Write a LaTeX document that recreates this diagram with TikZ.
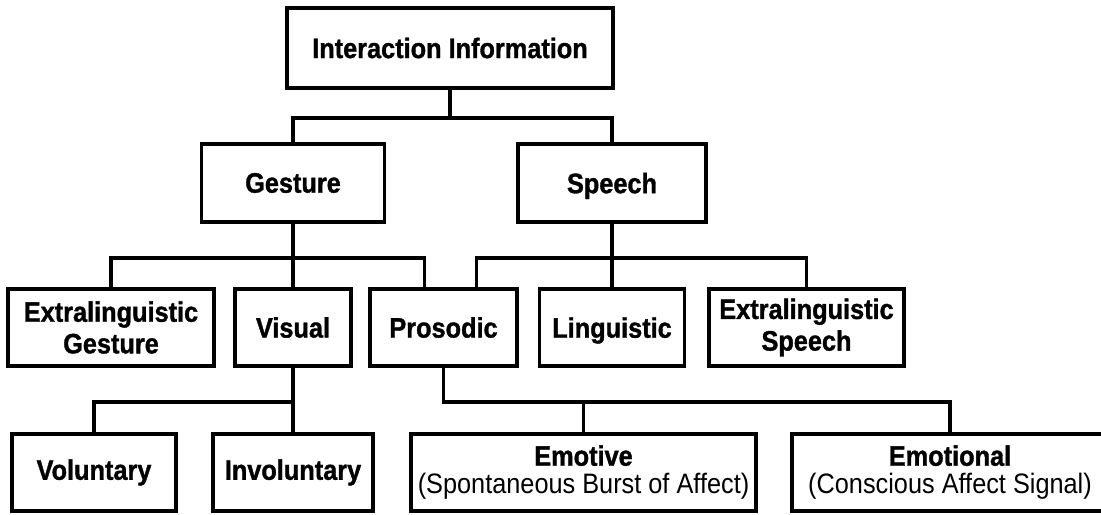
\documentclass[tikz,border=0pt]{standalone}
\usepackage{fontspec}
\setmainfont{Liberation Sans}[FakeStretch=0.9, BoldFeatures={FakeBold=1.2}]

\begin{document}
\begin{tikzpicture}[x=0.02cm, y=-0.02cm,
    box/.style={draw, line width=2.1pt, inner sep=2pt, align=center,
        font=\fontsize{16}{18}\selectfont\bfseries},
    leafbox/.style={box, minimum height=1.54cm,
        font=\fontsize{16}{16}\selectfont\bfseries},
    link/.style={line width=2.1pt}]

    % Fix the frame of the picture
    \useasboundingbox (0,0) rectangle (1101,514);
    \clip (0,0) rectangle (1101,514);

    % Draw the root box
    \node[box, minimum width=6.52cm, minimum height=1.6cm] (info) at (450,48) {Interaction Information};

    % Draw the second level
    \node[box, minimum width=3.66cm, minimum height=1.56cm] (gesture) at (293,183) {Gesture};
    \node[box, minimum width=3.76cm, minimum height=1.56cm, text depth=0pt] (speech) at (612,183) {Speech};

    % Draw the third level
    \node[box, minimum width=4.12cm, minimum height=1.54cm] (xgesture) at (111,327.5) {Extralinguistic\\Gesture};
    \node[box, minimum width=2.32cm, minimum height=1.54cm] (visual) at (293,327.5) {Visual};
    \node[box, minimum width=2.94cm, minimum height=1.54cm] (prosodic) at (443.5,327.5) {Prosodic};
    \node[box, minimum width=2.9cm, minimum height=1.54cm, text depth=0pt] (linguistic) at (612,327.5) {Linguistic};
    \node[box, minimum width=3.9cm, minimum height=1.54cm] (xspeech) at (806.5,327.5) {Extralinguistic\\Speech};

    % Draw the bottom level
    \node[leafbox, minimum width=3.28cm] (voluntary) at (94,472.5) {Voluntary};
    \node[leafbox, minimum width=3.2cm] (involuntary) at (293,472.5) {Involuntary};
    \node[leafbox, minimum width=6.9cm] (emotive) at (583.5,472.5) {Emotive\\\mdseries(Spontaneous Burst of Affect)};
    \node[leafbox, minimum width=6.32cm] (emotional) at (950,472.5) {Emotional\\\mdseries(Conscious Affect Signal)};

    % Connect root to second level
    \draw[link] (info.south) -- ++(0,28) -| (gesture.north);
    \draw[link] (info.south) -- ++(0,28) -| (speech.north);

    % Connect gesture and speech to third level
    \draw[link] (gesture.south) -- ++(0,34) -| (xgesture.north);
    \draw[link] (gesture.south) -- (visual.north);
    \draw[link] (gesture.south) -- ++(0,34) -| ([xshift=-0.38cm]prosodic.north);
    \draw[link] (speech.south) -- ++(0,34) -| ([xshift=0.66cm]prosodic.north);
    \draw[link] (speech.south) -- (linguistic.north);
    \draw[link] (speech.south) -- ++(0,34) -| (xspeech.north);

    % Connect visual and prosodic to bottom level
    \draw[link] (visual.south) -- ++(0,34) -| (voluntary.north);
    \draw[link] (visual.south) -- (involuntary.north);
    \draw[link] (prosodic.south) -- ++(0,34) -| (emotive.north);
    \draw[link] (prosodic.south) -- ++(0,34) -| (emotional.north);

\end{tikzpicture}
\end{document}
